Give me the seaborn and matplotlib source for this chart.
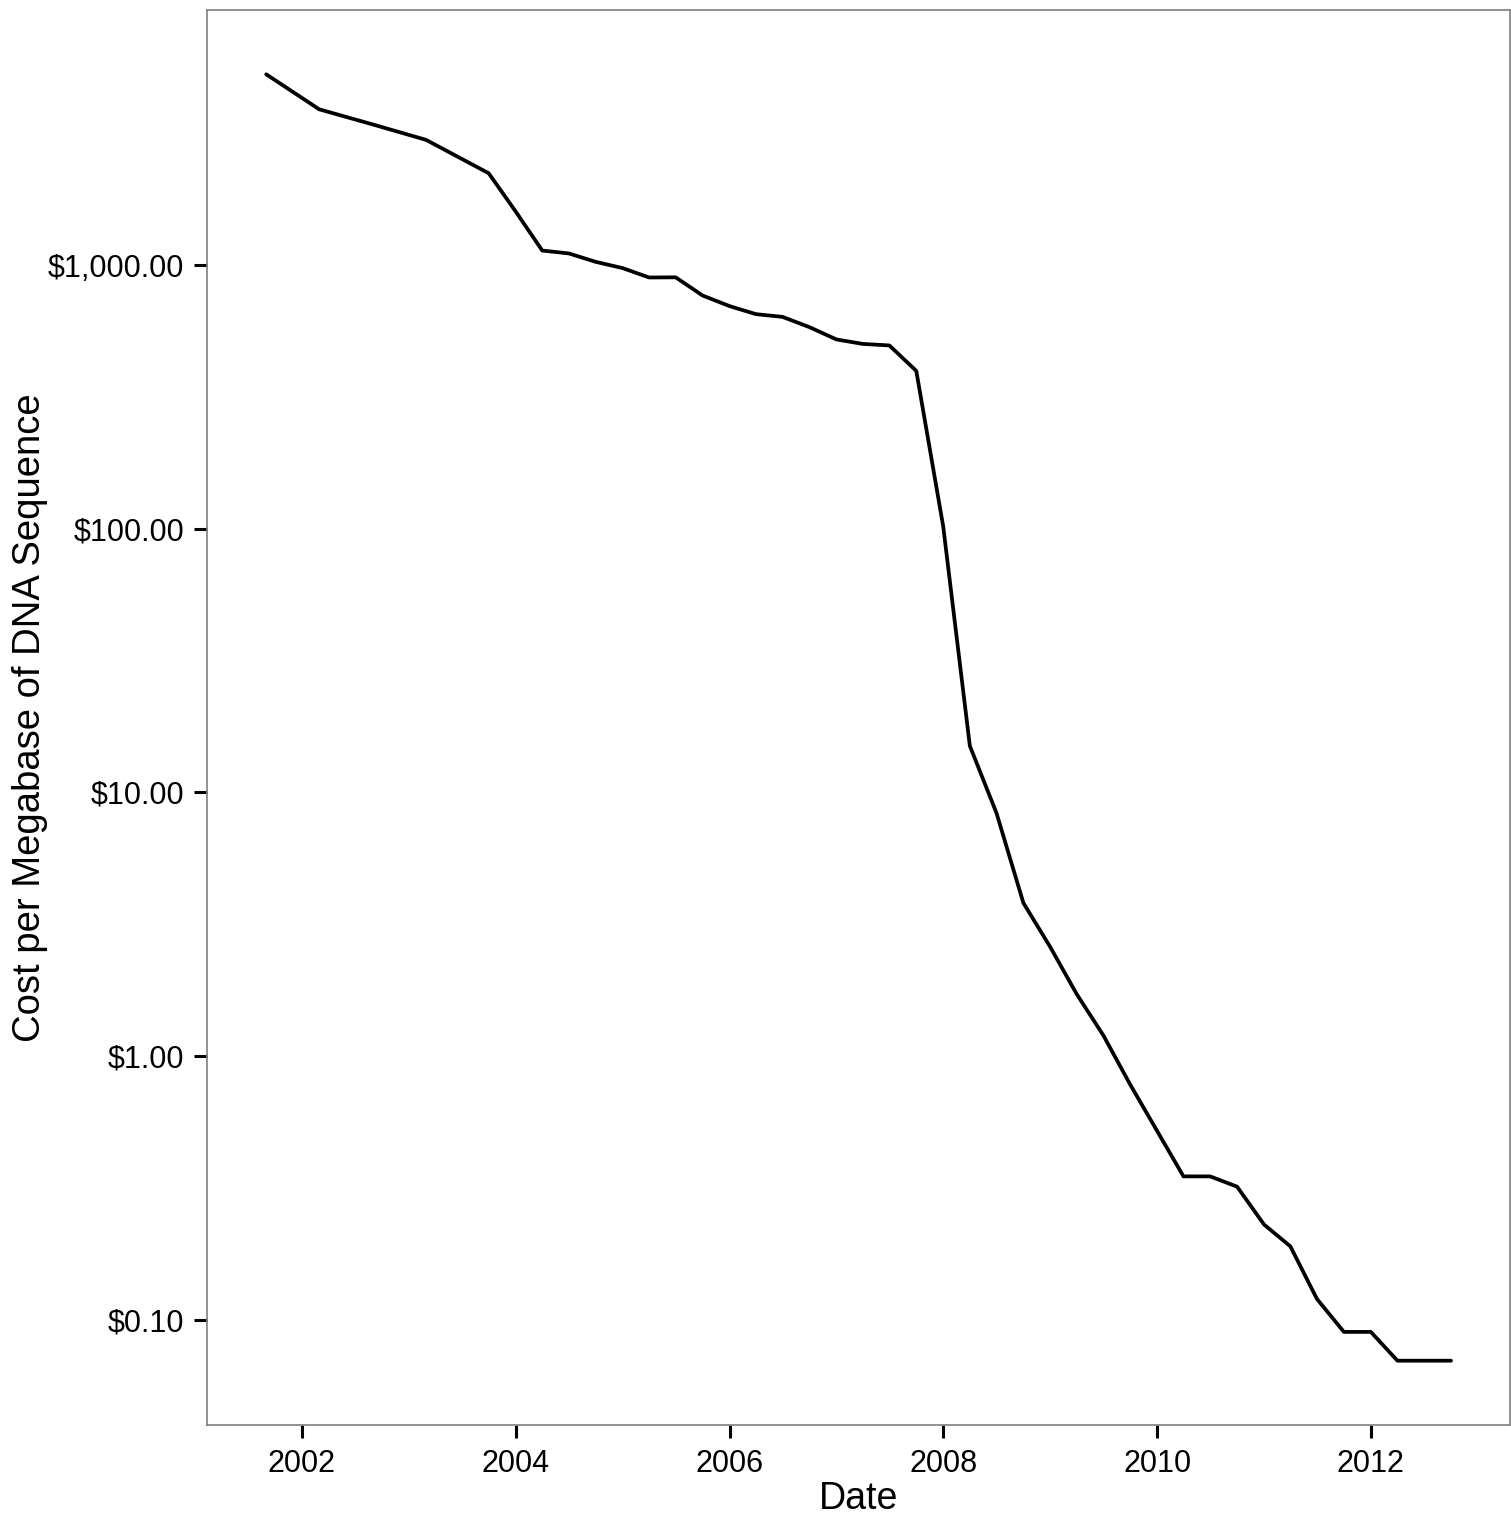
import matplotlib
matplotlib.use("Agg")
import matplotlib.pyplot as plt
import matplotlib.ticker as mticker
import seaborn as sns
import pandas as pd
import numpy as np

# NHGRI sequencing cost per megabase (USD), quarterly
dates = [
    "2001-09-01", "2002-03-01", "2002-09-01", "2003-03-01", "2003-10-01",
    "2004-01-01", "2004-04-01", "2004-07-01", "2004-10-01", "2005-01-01",
    "2005-04-01", "2005-07-01", "2005-10-01", "2006-01-01", "2006-04-01",
    "2006-07-01", "2006-10-01", "2007-01-01", "2007-04-01", "2007-07-01",
    "2007-10-01", "2008-01-01", "2008-04-01", "2008-07-01", "2008-10-01",
    "2009-01-01", "2009-04-01", "2009-07-01", "2009-10-01", "2010-01-01",
    "2010-04-01", "2010-07-01", "2010-10-01", "2011-01-01", "2011-04-01",
    "2011-07-01", "2011-10-01", "2012-01-01", "2012-04-01", "2012-07-01",
    "2012-10-01",
]
cost = [
    5292.39, 3898.64, 3413.80, 2986.20, 2230.98,
    1598.91, 1135.70, 1107.46, 1028.85, 974.16,
    897.76, 898.90, 766.73, 699.20, 651.81,
    636.41, 581.92, 522.71, 502.61, 495.96,
    397.09, 102.13, 15.03, 8.36, 3.81,
    2.59, 1.72, 1.20, 0.78, 0.52,
    0.35, 0.35, 0.32, 0.23, 0.19,
    0.12, 0.09, 0.09, 0.07, 0.07,
    0.07,
]
y_ticks = [0.1, 1, 10, 100, 1000]
x_tick_years = [2002, 2004, 2006, 2008, 2010, 2012]

df = pd.DataFrame({"Date": pd.to_datetime(dates), "Cost": cost})

sns.set_theme(style="white")
plt.rcParams["font.family"] = ["Liberation Sans", "DejaVu Sans"]

fig = plt.figure(figsize=(15.11, 15.15), dpi=100)
ax = fig.add_axes([207 / 1511, 1 - 1425 / 1515, 1 - 207 / 1511 - 0.0005, (1425 - 10) / 1515])

sns.lineplot(data=df, x="Date", y="Cost", ax=ax, color="black", linewidth=2.7)

ax.set_yscale("log")
lo, hi = np.log10(min(cost)), np.log10(max(cost))
pad = 0.05 * (hi - lo)
ax.set_ylim(10 ** (lo - pad), 10 ** (hi + pad))
ax.set_yticks(y_ticks)
ax.yaxis.set_major_formatter(mticker.FuncFormatter(lambda v, p: f"${v:,.2f}"))
ax.yaxis.set_minor_locator(mticker.NullLocator())

xmin, xmax = df["Date"].min(), df["Date"].max()
span = xmax - xmin
ax.set_xlim(xmin - span * 0.05, xmax + span * 0.05)
ax.set_xticks([pd.Timestamp(f"{y}-01-01") for y in x_tick_years])
ax.set_xticklabels([str(y) for y in x_tick_years])

for s in ax.spines.values():
    s.set_color("#7f7f7f")
    s.set_linewidth(1.2)

ax.tick_params(axis="both", which="major", direction="out", length=9.5, width=2.2,
               color="black", labelsize=22, labelcolor="black",
               bottom=True, left=True)
ax.tick_params(axis="y", pad=7)
ax.tick_params(axis="x", pad=8)
ax.grid(False)
ax.set_xlabel("Date", fontsize=27, labelpad=1, color="black")
ax.set_ylabel("Cost per Megabase of DNA Sequence", fontsize=27.5, labelpad=0, color="black")

fig.savefig("out.png", dpi=100)
